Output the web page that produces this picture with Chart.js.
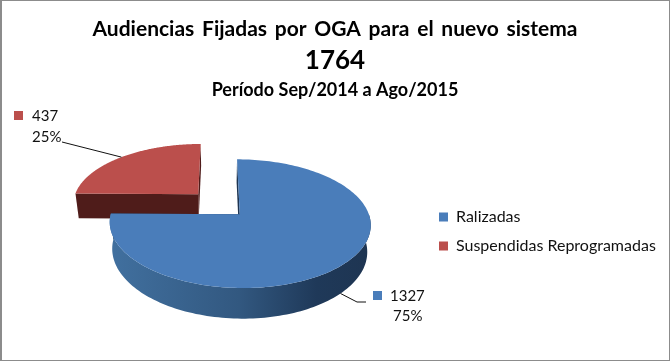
<!DOCTYPE html>
<html>
<head>
<meta charset="utf-8">
<title>Audiencias Fijadas por OGA</title>
<script src="https://cdn.jsdelivr.net/npm/chart.js@4"></script>
<style>
    html, body { margin: 0; padding: 0; background: #fff; }
    #wrap { position: relative; width: 670px; height: 361px; overflow: hidden; }
    #frame { position: absolute; inset: 0; box-sizing: border-box; border: solid #8c8c8c; border-width: 1px 1px 1px 2px; pointer-events: none; }
</style>
</head>
<body>
<div id="wrap">
    <canvas id="pieChart" width="670" height="361"></canvas>
    <div id="frame"></div>
</div>
<script>
const categories = ["Ralizadas", "Suspendidas Reprogramadas"];
const audiencias = [1327, 437];
const sliceColors = ["#4a7dba", "#bb4f4c"];
const titleText = "Audiencias Fijadas por OGA para el nuevo sistema";
const totalText = "1764";
const periodText = "Período Sep/2014 a Ago/2015";

const fontFamily = "Lato, Carlito, sans-serif";

// perspective of the pie plane, worked out from the picture
const view = { cx: 218.5, cy: 204, kx: 126, ky: 60, dist: 7, depth: 25.5, shrink: 0.977 };

function project(u, v) {
    const w = 1 / (1 - v / view.dist);
    return { x: view.cx + u * w * view.kx, y: view.cy + v * w * view.ky, w: w };
}

// same point but on the bottom face of the pie
function lower(p) {
    return { x: view.cx + (p.x - view.cx) * view.shrink, y: p.y + view.depth * p.w };
}

// arc geometry comes from the chart's own element
function sliceInfo(arc) {
    const mid = (arc.startAngle + arc.endAngle) / 2;
    const off = arc.options.offset / arc.outerRadius;
    return { mid: mid, ox: Math.cos(mid) * off, oy: Math.sin(mid) * off };
}

function rimPoint(info, angle) {
    return project(info.ox + Math.cos(angle), info.oy + Math.sin(angle));
}

function rimAngles(arc) {
    const out = [];
    const n = 180;
    for (let i = 0; i <= n; i++) out.push(arc.startAngle + (arc.endAngle - arc.startAngle) * i / n);
    return out;
}

function poly(ctx, pts, fill) {
    ctx.beginPath();
    pts.forEach((p, i) => i ? ctx.lineTo(p.x, p.y) : ctx.moveTo(p.x, p.y));
    ctx.closePath();
    ctx.fillStyle = fill;
    ctx.fill();
}

function drawSlice(ctx, arc, wallFill, cutFill) {
    const info = sliceInfo(arc);
    const apex = project(info.ox, info.oy);
    const rim = rimAngles(arc).map(a => rimPoint(info, a));
    const first = rim[0];
    const last = rim[rim.length - 1];

    // cut faces
    poly(ctx, [apex, first, lower(first), lower(apex)], cutFill);
    poly(ctx, [apex, last, lower(last), lower(apex)], cutFill);

    // outer wall, only the part facing us
    const front = rimAngles(arc).filter(a => Math.sin(a) > -0.02).map(a => rimPoint(info, a));
    if (front.length > 1) {
        poly(ctx, front.concat(front.map(lower).reverse()), wallFill);
    }

    // top face
    poly(ctx, [apex].concat(rim), arc.options.backgroundColor);
}

function drawLabel(ctx, color, swatchX, swatchY, lines) {
    ctx.fillStyle = color;
    ctx.fillRect(swatchX, swatchY, 9, 9);
    ctx.fillStyle = "#111";
    ctx.font = "15px " + fontFamily;
    ctx.textAlign = "left";
    ctx.textBaseline = "middle";
    lines.forEach(l => ctx.fillText(l.text, l.x, l.y));
}

function drawHeading(ctx) {
    ctx.fillStyle = "#000";
    ctx.textAlign = "center";
    ctx.textBaseline = "middle";
    // the first line has wide gaps between words
    ctx.wordSpacing = "2.6px";
    ctx.font = "bold 21px " + fontFamily;
    ctx.fillText(titleText, 335, 29);
    ctx.wordSpacing = "0px";
    ctx.font = "bold 26px " + fontFamily;
    ctx.fillText(totalText, 335, 61);
    ctx.font = "bold 18px " + fontFamily;
    ctx.fillText(periodText, 335, 90);
}

const pie3d = {
    id: "pie3d",
    afterLayout(chart) {
        // move the legend to where the original has it
        const lg = chart.legend;
        const dx = 426 - lg.left;
        const dy = 196 - lg.top;
        lg.left += dx; lg.right += dx;
        lg.top += dy; lg.bottom += dy;
    },
    beforeDatasetsDraw(chart) {
        const ctx = chart.ctx;
        const arcs = chart.getDatasetMeta(0).data;
        const blue = arcs[0];
        const red = arcs[1];
        const total = audiencias.reduce((a, b) => a + b, 0);
        const pct = audiencias.map(v => Math.round(v / total * 100) + "%");

        ctx.save();

        drawSlice(ctx, red, "#4f1c1a", "#4f1c1a");

        const wall = ctx.createLinearGradient(110, 0, 368, 0);
        wall.addColorStop(0, "#41709f");
        wall.addColorStop(0.5, "#325880");
        wall.addColorStop(0.8, "#1f3959");
        wall.addColorStop(1, "#1e3552");
        drawSlice(ctx, blue, wall, "#1e3552");

        // leader lines start at the middle of each slice
        const redInfo = sliceInfo(red);
        const redEnd = rimPoint(redInfo, redInfo.mid);
        ctx.strokeStyle = "#111";
        ctx.lineWidth = 1;
        ctx.beginPath();
        ctx.moveTo(redEnd.x, redEnd.y);
        ctx.lineTo(62, 142);
        ctx.stroke();

        const blueInfo = sliceInfo(blue);
        const blueEnd = lower(rimPoint(blueInfo, blueInfo.mid));
        ctx.beginPath();
        ctx.moveTo(blueEnd.x, blueEnd.y);
        ctx.lineTo(357, 302);
        ctx.lineTo(366, 302);
        ctx.stroke();

        drawLabel(ctx, "#bb4f4c", 14, 111, [
            { text: String(audiencias[1]), x: 32, y: 116 },
            { text: pct[1], x: 32, y: 137 }
        ]);
        drawLabel(ctx, "#4a7dba", 373, 291, [
            { text: String(audiencias[0]), x: 390, y: 296 },
            { text: pct[0], x: 393, y: 316 }
        ]);

        drawHeading(ctx);

        ctx.restore();
        return false; // arcs are already painted
    }
};

new Chart(document.getElementById("pieChart"), {
    type: "pie",
    data: {
        labels: categories,
        datasets: [{
            data: audiencias,
            backgroundColor: sliceColors,
            borderWidth: 0,
            offset: c => (c.chart.chartArea ? c.chart.chartArea.height * 0.105 : 0)
        }]
    },
    options: {
        responsive: false,
        animation: false,
        plugins: {
            tooltip: { enabled: false },
            title: { display: false },
            legend: {
                position: "right",
                align: "start",
                labels: {
                    boxWidth: 9,
                    boxHeight: 9,
                    padding: 13,
                    color: "#111",
                    font: { family: fontFamily, size: 16 }
                }
            }
        }
    },
    plugins: [pie3d]
});
</script>
</body>
</html>
